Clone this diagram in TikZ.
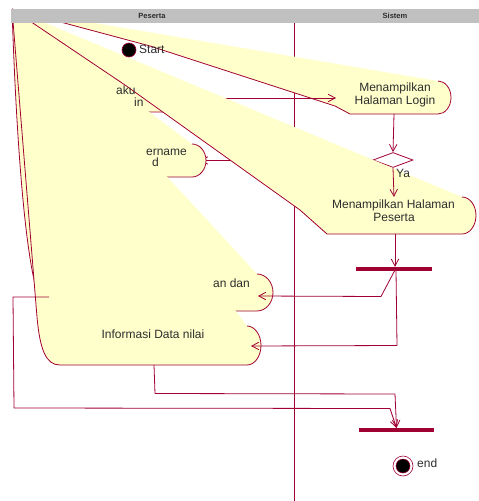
\documentclass[tikz,border=0pt]{standalone}
\usepackage{fontspec}
\setmainfont{Liberation Sans}
\usetikzlibrary{arrows.meta,shapes.geometric}
\definecolor{umlred}{RGB}{160,0,50}
\definecolor{umlfill}{RGB}{255,255,204}
\definecolor{hdrgray}{RGB}{192,192,192}
\definecolor{txtgray}{RGB}{45,45,45}
\begin{document}
\begin{tikzpicture}[x=1pt,y=-1pt,
  ln/.style={draw=umlred,line width=0.8pt,line join=round},
  arr/.style={ln,-{Straight Barb[length=7pt,width=7.5pt,line width=0.8pt]}},
  yfill/.style={fill=umlfill},
  lbl/.style={font=\fontsize{12}{13}\selectfont,text=txtgray,inner sep=0pt,anchor=base},
  lblw/.style={lbl,anchor=base west},
  lble/.style={lbl,anchor=base east},
  hlbl/.style={font=\fontsize{7.5}{8}\selectfont\bfseries,text=txtgray,inner sep=0pt},
  barbox/.style={fill=umlred,draw=none,inner sep=0pt,minimum width=76pt,minimum height=4pt},
]
\useasboundingbox (0,0) rectangle (479,501);
\coordinate (O) at (12,9);

% lane divider
\coordinate (divTop) at (294,23);
\coordinate (divBot) at (294,501);
\draw[ln] (divTop) -- (divBot);

% decision and its left connector (later partly hidden)
\node[draw=umlred,fill=white,line width=0.8pt,diamond,minimum width=40pt,minimum height=15pt,inner sep=0pt] (dec) at (393,160) {};
\coordinate (cIn) at (200,160.5);
\draw[arr] (dec.west) -- (cIn);

% shape F
\fill[yfill] (O) -- (165,79) .. controls (172.2,79) and (178,86.4) .. (178,95.5) .. controls (178,104.6) and (172.2,112) .. (165,112) -- (60,112) -- cycle;
\draw[ln] (60,112) -- (165,112) .. controls (172.2,112) and (178,104.6) .. (178,95.5) .. controls (178,86.4) and (172.2,79) .. (165,79);

% shape A
\fill[yfill] (O) -- (438,81) .. controls (445.2,81) and (451,88.4) .. (451,97.5) .. controls (451,106.6) and (445.2,114) .. (438,114) -- (350,114) -- (335,106) -- (150,46) -- cycle;
\draw[ln] (O) -- (150,46) -- (335,106) -- (350,114) -- (438,114) .. controls (445.2,114) and (451,106.6) .. (451,97.5) .. controls (451,88.4) and (445.2,81) .. (438,81);
\node[lbl] (aT1) at (395,91.8) {Menampilkan};
\node[lbl] (aT2) at (395,104.8) {Halaman Login};

% connector F -> A (left part later hidden)
\coordinate (fOut) at (178,98);
\coordinate (aIn) at (336,98);
\draw[arr] (fOut) -- (aIn);

% shape B
\fill[yfill] (O) -- (462,197) .. controls (469.7,197) and (476,205.3) .. (476,215.5) .. controls (476,225.7) and (469.7,234) .. (462,234) -- (327,234) -- (300,210) -- (125,85) -- cycle;
\draw[ln] (O) -- (125,85) -- (300,210) -- (327,234) -- (462,234) .. controls (469.7,234) and (476,225.7) .. (476,215.5) .. controls (476,205.3) and (469.7,197) .. (462,197);
\node[lbl] (bT1) at (393.5,208.6) {Menampilkan Halaman};
\node[lbl] (bT2) at (394,221.3) {Peserta};

% shape C
\fill[yfill] (O) -- (192,144) .. controls (199.7,144) and (206,151.4) .. (206,160.5) .. controls (206,169.6) and (199.7,177) .. (192,177) -- (60,177) -- cycle;
\draw[ln] (60,177) -- (192,177) .. controls (199.7,177) and (206,169.6) .. (206,160.5) .. controls (206,151.4) and (199.7,144) .. (192,144);

% shape D
\fill[yfill] (O) -- (257,274) .. controls (265.8,274) and (273,282.3) .. (273,292.5) .. controls (273,302.7) and (265.8,311) .. (257,311) -- (55,311) .. controls (46,311) and (43,306) .. (40,300) .. controls (27,270) and (17,160) .. (O) -- cycle;
\draw[ln] (O) .. controls (17,160) and (27,270) .. (40,300) .. controls (43,306) and (46,311) .. (55,311) -- (257,311) .. controls (265.8,311) and (273,302.7) .. (273,292.5) .. controls (273,282.3) and (265.8,274) .. (257,274);

% shape E
\fill[yfill] (O) -- (247,326) .. controls (254.7,326) and (261,334.8) .. (261,345.5) .. controls (261,356.2) and (254.7,365) .. (247,365) -- (60,365) .. controls (46,365) and (40,350) .. (37,317) -- cycle;
\draw[ln] (O) -- (37,317) .. controls (40,350) and (46,365) .. (60,365) -- (247,365) .. controls (254.7,365) and (261,356.2) .. (261,345.5) .. controls (261,334.8) and (254.7,326) .. (247,326);
\node[lbl] (eT) at (153,338) {Informasi Data nilai};

% visible text fragments of covered actions
\node[lblw] (fT1) at (116,94) {aku};
\node[lblw] (fT2) at (134,106) {in};
\node[lble] (cT1) at (187,155) {ername};
\node[lblw] (cT2) at (152,166) {d};
\node[lble] (dT1) at (250,287) {an dan};

% bars
\node[barbox] (fork) at (394,269) {};
\node[barbox,minimum width=75pt] (join) at (396.5,430) {};

% visible connectors
\coordinate (aOut) at (394,114);
\draw[arr] (aOut) -- (dec.north);
\coordinate (bIn) at (394,197);
\draw[arr] (dec.south) -- (bIn);
\node[lblw] (ya) at (396,177) {Ya};
\coordinate (bOut) at (395,234);
\draw[arr] (bOut) -- (bOut |- fork.north);
\coordinate (fk1) at (395,270);
\coordinate (fk2) at (396,270);
\coordinate (dIn) at (258,296);
\coordinate (eIn) at (251,346);
\draw[arr] (fk1) -- (381,296.5) -- (dIn);
\draw[arr] (fk2) -- (397,345.5) -- (eIn);
\coordinate (eOut) at (154,365);
\coordinate (dOut) at (49,297);
\coordinate (jn) at (396.5,428);
\draw[arr] (eOut) -- (155,393.5) -- (395,394) -- (jn);
\draw[arr] (dOut) -- (13,297) -- (14,408) -- (390,408.5) -- (jn);

% start and end
\node[circle,fill=black,draw=umlred,line width=0.6pt,minimum size=14pt,inner sep=0pt] (start) at (129,50) {};
\node[lblw] (startL) at (139,53.3) {Start};
\node[circle,draw=umlred,line width=0.6pt,minimum size=20pt,inner sep=0pt] (endO) at (403,466) {};
\node[circle,fill=black,draw=umlred,line width=0.5pt,minimum size=14pt,inner sep=0pt] (endI) at (403,466) {};
\node[lblw] (endL) at (417,467) {end};

% header
\node[fill=hdrgray,minimum width=468pt,minimum height=14pt,inner sep=0pt,anchor=north west] (hdr) at (11,9) {};
\node[hlbl] (pesertaH) at (152,16) {Peserta};
\node[hlbl] (sistemH) at (395,16) {Sistem};
\end{tikzpicture}
\end{document}
